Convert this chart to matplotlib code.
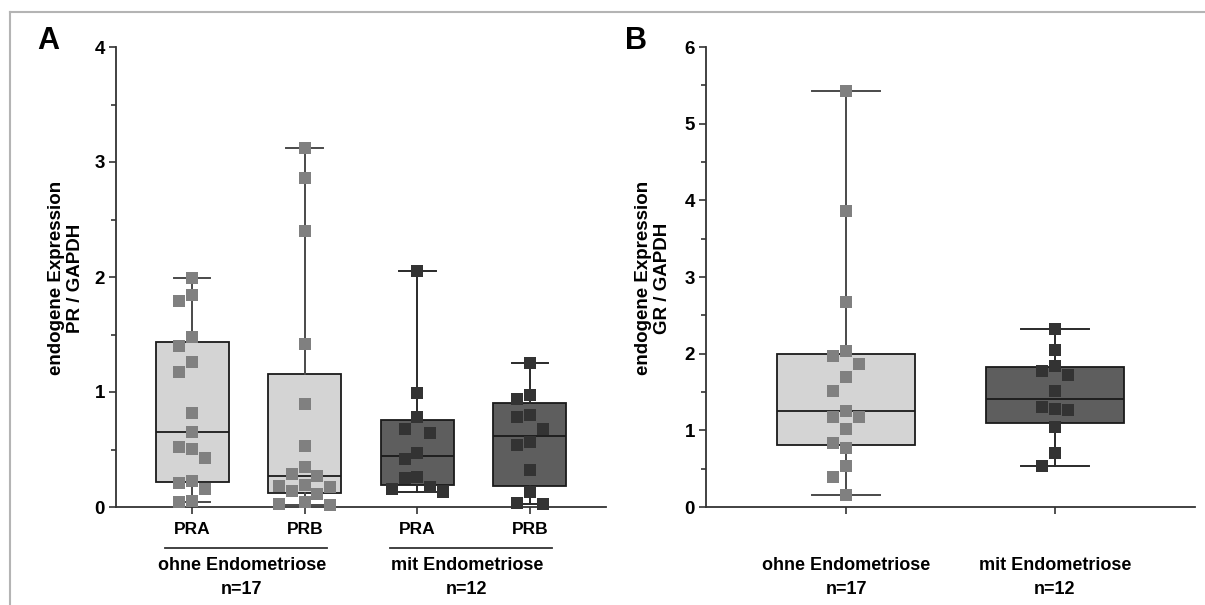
import numpy as np
import matplotlib
matplotlib.use("Agg")
import matplotlib.pyplot as plt
from matplotlib.lines import Line2D
from matplotlib.ticker import MultipleLocator
from matplotlib.transforms import blended_transform_factory

plt.rcParams["font.family"] = ["Liberation Sans", "DejaVu Sans"]
plt.rcParams["font.weight"] = "bold"

# Panel A: PR / GAPDH
pra_ohne = [1.99, 1.84, 1.79, 1.476, 1.40, 1.263, 1.177, 0.815, 0.655, 0.52,
            0.504, 0.423, 0.229, 0.206, 0.154, 0.052, 0.046]
prb_ohne = [3.12, 2.86, 2.40, 1.415, 0.896, 0.533, 0.35, 0.29, 0.27, 0.19,
            0.18, 0.17, 0.14, 0.11, 0.04, 0.025, 0.017]
pra_mit = [2.055, 0.989, 0.78, 0.675, 0.64, 0.472, 0.415, 0.26, 0.25, 0.17,
           0.154, 0.128]
prb_mit = [1.249, 0.974, 0.936, 0.80, 0.785, 0.678, 0.562, 0.539, 0.322,
           0.133, 0.032, 0.026]
a_ticklabels = ["PRA", "PRB", "PRA", "PRB"]

# Panel B: GR / GAPDH
gr_ohne = [5.43, 3.86, 2.67, 2.03, 1.965, 1.87, 1.70, 1.51, 1.247, 1.17, 1.17,
           1.02, 0.84, 0.77, 0.54, 0.39, 0.16]
gr_mit = [2.32, 2.05, 1.833, 1.725, 1.78, 1.516, 1.28, 1.27, 1.31, 1.043,
          0.70, 0.53]

groups = ["ohne Endometriose\nn=17", "mit Endometriose\nn=12"]

LIGHT_BOX, LIGHT_PT = "#d4d4d4", "#808080"
DARK_BOX, DARK_PT = "#5e5e5e", "#333333"
MS = 9.1  # marker side in points


def box_stats(values):
    v = np.asarray(values)
    q1, med, q3 = np.percentile(v, [25, 50, 75], method="weibull")
    return dict(med=med, q1=q1, q3=q3, whislo=v.min(), whishi=v.max(), fliers=[])


def swarm_offsets(ax, values, pos, size_px, step_px):
    """Simple dodge so square markers don't overlap (in pixel space)."""
    values = np.asarray(values, dtype=float)
    pts = ax.transData.transform(np.column_stack([np.full(len(values), pos), values]))
    ys = pts[:, 1]
    px_per_unit = (ax.transData.transform([(1, 0)])[0, 0]
                   - ax.transData.transform([(0, 0)])[0, 0])
    placed = []
    offs = np.zeros(len(values))
    ks = [0]
    for k in range(1, 12):
        ks += [-k, k]
    for i in np.argsort(-values):
        for k in ks:
            x = k * step_px
            if all(abs(x - px) >= size_px or abs(ys[i] - py) >= size_px * 1.3
                   for px, py in placed):
                break
        placed.append((x, ys[i]))
        offs[i] = x / px_per_unit
    return offs


def draw_panel(ax, datasets, boxcolors, ptcolors, whiskcolors, width):
    ax.bxp([box_stats(d) for d in datasets], positions=range(len(datasets)),
           widths=width, capwidths=width / 2, showfliers=False, patch_artist=True,
           boxprops=dict(linewidth=1.3, edgecolor="#1a1a1a"),
           medianprops=dict(color="#1a1a1a", linewidth=1.3),
           whiskerprops=dict(linewidth=1.4), capprops=dict(linewidth=1.4),
           manage_ticks=False, zorder=2)
    for patch, c in zip(ax.patches, boxcolors):
        patch.set_facecolor(c)
    for i, c in enumerate(whiskcolors):
        for j in range(4):
            ax.lines[i * 5 + j].set_color(c)
    size_px = MS * fig.dpi / 72
    for i, (d, c) in enumerate(zip(datasets, ptcolors)):
        offs = swarm_offsets(ax, d, i, size_px, size_px / 2)
        ax.plot(i + offs, d, linestyle="none", marker="s", ms=MS, mew=0,
                color=c, zorder=3, clip_on=False)


def style_axis(ax, ymax):
    for s in ["top", "right"]:
        ax.spines[s].set_visible(False)
    for s in ["left", "bottom"]:
        ax.spines[s].set_color("#333333")
        ax.spines[s].set_linewidth(1.3)
    ax.set_ylim(0, ymax)
    ax.yaxis.set_major_locator(MultipleLocator(1))
    ax.yaxis.set_minor_locator(MultipleLocator(0.5))
    ax.tick_params(axis="y", which="major", length=5, width=1.2, color="#333333",
                   labelsize=13.5, pad=3)
    ax.tick_params(axis="y", which="minor", length=3.5, width=1.2, color="#333333")
    ax.tick_params(axis="x", length=5, width=1.2, color="#333333", labelsize=12.5, pad=6)
    for lab in ax.get_yticklabels():
        lab.set_fontweight("bold")


W, H = 1205, 605
fig = plt.figure(figsize=(W / 100, H / 100), dpi=100)

axA = fig.add_axes([116 / W, (H - 507) / H, (606 - 116) / W, 460 / H])
axB = fig.add_axes([706 / W, (H - 507) / H, (1195 - 706) / W, 460 / H])

axA.set_xlim(-0.676, 3.676)
axB.set_xlim(-0.67, 1.67)
style_axis(axA, 4)
style_axis(axB, 6)

draw_panel(axA, [pra_ohne, prb_ohne, pra_mit, prb_mit],
           [LIGHT_BOX, LIGHT_BOX, DARK_BOX, DARK_BOX],
           [LIGHT_PT, LIGHT_PT, DARK_PT, DARK_PT],
           ["#4a4a4a", "#4a4a4a", "#2a2a2a", "#2a2a2a"], 0.65)
draw_panel(axB, [gr_ohne, gr_mit], [LIGHT_BOX, DARK_BOX], [LIGHT_PT, DARK_PT],
           ["#4a4a4a", "#2a2a2a"], 0.66)

axA.set_xticks(range(4))
axA.set_xticklabels(a_ticklabels, fontweight="bold")
axB.set_xticks(range(2))
axB.set_xticklabels(["", ""])
style_axis(axA, 4)
style_axis(axB, 6)

# group labels
trA = blended_transform_factory(axA.transData, fig.transFigure)
trB = blended_transform_factory(axB.transData, fig.transFigure)
for g, (lbl, start) in enumerate(zip(groups, [0, 2])):
    axA.plot([start - 0.24, start + 1.2], [(H - 547.7) / H] * 2, transform=trA,
             color="#333333", lw=1.3, clip_on=False)
    name, n = lbl.split("\n")
    xc = start + 0.5 - 0.06
    axA.text(xc, (H - 566) / H, name, transform=trA, ha="center", va="center",
             fontsize=13, fontweight="bold")
    axA.text(xc, (H - 590) / H, n, transform=trA, ha="center", va="center",
             fontsize=13, fontweight="bold")
    axB.text(g, (H - 566) / H, name, transform=trB, ha="center", va="center",
             fontsize=13, fontweight="bold")
    axB.text(g, (H - 590) / H, n, transform=trB, ha="center", va="center",
             fontsize=13, fontweight="bold")

# y labels
fig.text(66 / W, (H - 278) / H, "endogene Expression\nPR / GAPDH", rotation=90,
         ha="center", va="center", fontsize=13.5, fontweight="bold", linespacing=1.15)
fig.text(653 / W, (H - 278) / H, "endogene Expression\nGR / GAPDH", rotation=90,
         ha="center", va="center", fontsize=13.5, fontweight="bold", linespacing=1.15)

# panel letters
fig.text(48.5 / W, (H - 41) / H, "A", fontsize=22, fontweight="bold",
         ha="center", va="center")
fig.text(636 / W, (H - 41) / H, "B", fontsize=22, fontweight="bold",
         ha="center", va="center")

# outer frame
fig.add_artist(Line2D([10 / W, 1], [(H - 12) / H] * 2, color="#b4b4b4", lw=1.5))
fig.add_artist(Line2D([10 / W] * 2, [0, (H - 12) / H], color="#b4b4b4", lw=1.5))

fig.savefig("out.png", dpi=100)
